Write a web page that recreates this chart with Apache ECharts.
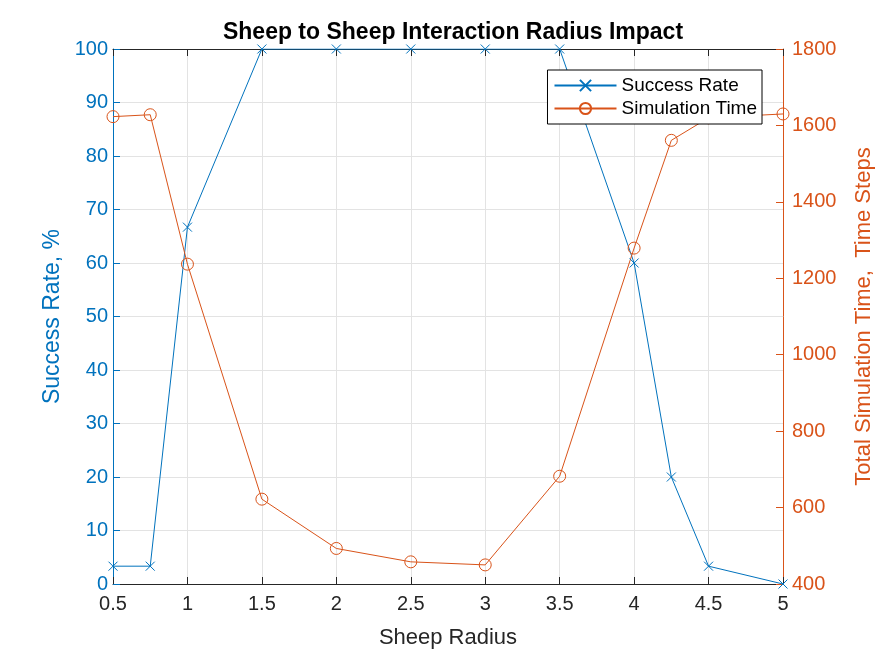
<!DOCTYPE html>
<html>
<head>
<meta charset="utf-8">
<script src="https://cdn.jsdelivr.net/npm/echarts@6/dist/echarts.min.js"></script>
<style>
  html, body { margin: 0; padding: 0; background: #fff; }
  #chart { width: 875px; height: 656px; }
</style>
</head>
<body>
<div id="chart"></div>
<script>
// sheep radius values
var radius = [0.5, 0.75, 1, 1.5, 2, 2.5, 3, 3.5, 4, 4.25, 4.5, 5]
// success rate, %
var successRate = [3.33, 3.33, 66.7, 100, 100, 100, 100, 100, 60, 20, 3.33, 0]
// total simulation time, time steps
var simTime = [1623, 1628, 1237, 622, 493, 458, 450, 682, 1279, 1561, 1620, 1630]

var blue = '#0072BD'
var orange = '#D95319'
var font = 'Arial, "Liberation Sans", sans-serif'
var crossPath = 'path://M0,0L10,10M10,0L0,10'

var chart = echarts.init(document.getElementById('chart'))

chart.setOption({
    animation: false,
    backgroundColor: '#fff',
    textStyle: { fontFamily: font },
    title: {
        text: 'Sheep to Sheep Interaction Radius Impact',
        left: 448,
        top: 16,
        textAlign: 'center',
        textStyle: { fontSize: 23, fontWeight: 'bold', color: '#000', fontFamily: font }
    },
    legend: {
        orient: 'vertical',
        right: 113,
        top: 70,
        padding: [6, 5, 6, 6],
        itemGap: 4,
        itemWidth: 62,
        itemHeight: 14,
        backgroundColor: '#fff',
        borderColor: '#000',
        borderWidth: 1,
        borderRadius: 0,
        textStyle: { fontSize: 19, color: '#000', fontFamily: font },
        data: ['Success Rate', 'Simulation Time']
    },
    grid: { left: 113, right: 92, top: 49, bottom: 72, outerBoundsMode: 'none', containLabel: false },
    xAxis: [{
        type: 'value',
        min: 0.5,
        max: 5,
        interval: 0.5,
        name: 'Sheep Radius',
        nameLocation: 'middle',
        nameGap: 43,
        nameTextStyle: { fontSize: 22, color: '#262626' },
        axisLine: { lineStyle: { color: '#262626', width: 1 } },
        axisTick: { inside: true, length: 7, lineStyle: { color: '#262626' } },
        axisLabel: { fontSize: 20, color: '#262626', margin: 10 },
        splitLine: { show: true, lineStyle: { color: '#e3e3e3', width: 1 } }
    }, {
        type: 'value',
        position: 'top',
        min: 0.5,
        max: 5,
        interval: 0.5,
        axisLine: { show: true, lineStyle: { color: '#262626', width: 1 } },
        axisTick: { show: true, inside: true, length: 7, lineStyle: { color: '#262626' } },
        axisLabel: { show: false },
        splitLine: { show: false }
    }],
    yAxis: [{
        type: 'value',
        min: 0,
        max: 100,
        interval: 10,
        name: 'Success Rate, %',
        nameLocation: 'middle',
        nameGap: 49,
        nameTextStyle: { fontSize: 23, color: blue },
        axisLine: { show: true, lineStyle: { color: blue, width: 1 } },
        axisTick: { show: true, inside: true, length: 7, lineStyle: { color: blue } },
        axisLabel: { fontSize: 20, color: blue, margin: 5 },
        splitLine: { show: true, lineStyle: { color: '#e3e3e3', width: 1 } }
    }, {
        type: 'value',
        position: 'right',
        min: 400,
        max: 1800,
        interval: 200,
        name: 'Total Simulation Time,  Time Steps',
        nameLocation: 'middle',
        nameGap: 70,
        nameRotate: 90,
        nameTextStyle: { fontSize: 22, color: orange },
        axisLine: { show: true, lineStyle: { color: orange, width: 1 } },
        axisTick: { show: true, inside: true, length: 7, lineStyle: { color: orange } },
        axisLabel: { fontSize: 20, color: orange, margin: 9, formatter: function (v) { return String(v) } },
        splitLine: { show: false }
    }],
    series: [{
        name: 'Success Rate',
        type: 'line',
        yAxisIndex: 0,
        data: radius.map(function (r, i) { return [r, successRate[i]] }),
        symbol: crossPath,
        symbolSize: 9,
        showAllSymbol: true,
        lineStyle: { color: blue, width: 1 },
        itemStyle: { color: 'transparent', borderColor: blue, borderWidth: 1 }
    }, {
        name: 'Simulation Time',
        type: 'line',
        yAxisIndex: 1,
        data: radius.map(function (r, i) { return [r, simTime[i]] }),
        symbol: 'circle',
        symbolSize: 12,
        showAllSymbol: true,
        lineStyle: { color: orange, width: 1 },
        itemStyle: { color: 'transparent', borderColor: orange, borderWidth: 1 }
    }]
})
</script>
</body>
</html>
